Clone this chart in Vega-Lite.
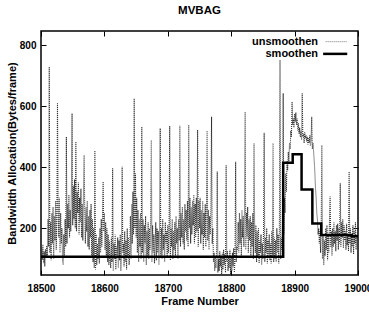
{
  "$schema": "https://vega.github.io/schema/vega-lite/v6.json",
  "width": 317,
  "height": 244,
  "autosize": "none",
  "padding": {"left": 41, "top": 31, "right": 11, "bottom": 41},
  "background": "white",
  "title": {"text": "MVBAG", "font": "Liberation Sans", "fontSize": 11.5, "fontWeight": "bold", "color": "black", "anchor": "middle", "offset": 14},
  "config": {
    "view": {"stroke": "black", "strokeWidth": 1.5},
    "axis": {"grid": false, "domain": false, "tickColor": "black", "tickSize": -5, "tickWidth": 1, "labelFont": "Liberation Sans", "labelFontWeight": "bold", "labelFontSize": 10, "labelColor": "black", "titleFont": "Liberation Sans", "titleFontWeight": "bold", "titleFontSize": 11, "titleColor": "black"},
    "text": {"font": "Liberation Sans", "fontWeight": "bold", "fontSize": 11, "color": "black"}
  },
  "datasets": {
    "u": [
{"f":18500,"v":85},{"f":18501,"v":140},{"f":18502,"v":97},{"f":18503,"v":148},{"f":18504,"v":86},{"f":18505,"v":124},{"f":18506,"v":75},{"f":18507,"v":131},{"f":18508,"v":105},{"f":18509,"v":143},
{"f":18510,"v":110},{"f":18511,"v":230},{"f":18512,"v":140},{"f":18513,"v":730},{"f":18514,"v":120},{"f":18515,"v":220},{"f":18516,"v":95},{"f":18517,"v":250},{"f":18518,"v":150},{"f":18519,"v":270},
{"f":18520,"v":100},{"f":18521,"v":240},{"f":18522,"v":160},{"f":18523,"v":290},{"f":18524,"v":130},{"f":18525,"v":230},{"f":18526,"v":610},{"f":18527,"v":260},{"f":18528,"v":170},{"f":18529,"v":300},
{"f":18530,"v":120},{"f":18531,"v":250},{"f":18532,"v":150},{"f":18533,"v":200},{"f":18534,"v":95},{"f":18535,"v":80},{"f":18536,"v":180},{"f":18537,"v":110},{"f":18538,"v":230},{"f":18539,"v":140},
{"f":18540,"v":500},{"f":18541,"v":150},{"f":18542,"v":280},{"f":18543,"v":200},{"f":18544,"v":310},{"f":18545,"v":170},{"f":18546,"v":260},{"f":18547,"v":190},{"f":18548,"v":330},{"f":18549,"v":577},
{"f":18550,"v":210},{"f":18551,"v":340},{"f":18552,"v":230},{"f":18553,"v":360},{"f":18554,"v":200},{"f":18555,"v":484},{"f":18556,"v":190},{"f":18557,"v":320},{"f":18558,"v":250},{"f":18559,"v":350},
{"f":18560,"v":180},{"f":18561,"v":300},{"f":18562,"v":220},{"f":18563,"v":330},{"f":18564,"v":170},{"f":18565,"v":280},{"f":18566,"v":160},{"f":18567,"v":310},{"f":18568,"v":440},{"f":18569,"v":260},
{"f":18570,"v":150},{"f":18571,"v":270},{"f":18572,"v":190},{"f":18573,"v":290},{"f":18574,"v":140},{"f":18575,"v":240},{"f":18576,"v":130},{"f":18577,"v":260},{"f":18578,"v":170},{"f":18579,"v":280},
{"f":18580,"v":110},{"f":18581,"v":230},{"f":18582,"v":90},{"f":18583,"v":200},{"f":18584,"v":70},{"f":18585,"v":455},{"f":18586,"v":65},{"f":18587,"v":180},{"f":18588,"v":80},{"f":18589,"v":150},
{"f":18590,"v":100},{"f":18591,"v":170},{"f":18592,"v":85},{"f":18593,"v":200},{"f":18594,"v":120},{"f":18595,"v":230},{"f":18596,"v":140},{"f":18597,"v":240},{"f":18598,"v":353},{"f":18599,"v":190},
{"f":18600,"v":250},{"f":18601,"v":130},{"f":18602,"v":220},{"f":18603,"v":110},{"f":18604,"v":200},{"f":18605,"v":90},{"f":18606,"v":180},{"f":18607,"v":80},{"f":18608,"v":160},{"f":18609,"v":100},
{"f":18610,"v":70},{"f":18611,"v":170},{"f":18612,"v":90},{"f":18613,"v":397},{"f":18614,"v":60},{"f":18615,"v":150},{"f":18616,"v":100},{"f":18617,"v":180},{"f":18618,"v":65},{"f":18619,"v":140},
{"f":18620,"v":110},{"f":18621,"v":170},{"f":18622,"v":70},{"f":18623,"v":160},{"f":18624,"v":95},{"f":18625,"v":180},{"f":18626,"v":60},{"f":18627,"v":140},{"f":18628,"v":402},{"f":18629,"v":120},
{"f":18630,"v":150},{"f":18631,"v":75},{"f":18632,"v":190},{"f":18633,"v":90},{"f":18634,"v":160},{"f":18635,"v":65},{"f":18636,"v":200},{"f":18637,"v":110},{"f":18638,"v":170},{"f":18639,"v":80},
{"f":18640,"v":120},{"f":18641,"v":240},{"f":18642,"v":100},{"f":18643,"v":280},{"f":18644,"v":150},{"f":18645,"v":320},{"f":18646,"v":180},{"f":18647,"v":626},{"f":18648,"v":200},{"f":18649,"v":380},
{"f":18650,"v":170},{"f":18651,"v":300},{"f":18652,"v":120},{"f":18653,"v":260},{"f":18654,"v":90},{"f":18655,"v":230},{"f":18656,"v":140},{"f":18657,"v":250},{"f":18658,"v":100},{"f":18659,"v":533},
{"f":18660,"v":120},{"f":18661,"v":230},{"f":18662,"v":90},{"f":18663,"v":210},{"f":18664,"v":150},{"f":18665,"v":240},{"f":18666,"v":80},{"f":18667,"v":190},{"f":18668,"v":110},{"f":18669,"v":220},
{"f":18670,"v":100},{"f":18671,"v":200},{"f":18672,"v":130},{"f":18673,"v":230},{"f":18674,"v":490},{"f":18675,"v":90},{"f":18676,"v":210},{"f":18677,"v":120},{"f":18678,"v":180},{"f":18679,"v":85},
{"f":18680,"v":150},{"f":18681,"v":220},{"f":18682,"v":95},{"f":18683,"v":200},{"f":18684,"v":120},{"f":18685,"v":190},{"f":18686,"v":80},{"f":18687,"v":210},{"f":18688,"v":528},{"f":18689,"v":110},
{"f":18690,"v":200},{"f":18691,"v":100},{"f":18692,"v":230},{"f":18693,"v":130},{"f":18694,"v":180},{"f":18695,"v":90},{"f":18696,"v":220},{"f":18697,"v":150},{"f":18698,"v":190},{"f":18699,"v":105},
{"f":18700,"v":210},{"f":18701,"v":120},{"f":18702,"v":180},{"f":18703,"v":536},{"f":18704,"v":95},{"f":18705,"v":200},{"f":18706,"v":140},{"f":18707,"v":230},{"f":18708,"v":100},{"f":18709,"v":190},
{"f":18710,"v":130},{"f":18711,"v":220},{"f":18712,"v":110},{"f":18713,"v":240},{"f":18714,"v":150},{"f":18715,"v":200},{"f":18716,"v":100},{"f":18717,"v":230},{"f":18718,"v":160},{"f":18719,"v":536},
{"f":18720,"v":140},{"f":18721,"v":250},{"f":18722,"v":170},{"f":18723,"v":270},{"f":18724,"v":150},{"f":18725,"v":230},{"f":18726,"v":130},{"f":18727,"v":280},{"f":18728,"v":190},{"f":18729,"v":260},
{"f":18730,"v":160},{"f":18731,"v":290},{"f":18732,"v":140},{"f":18733,"v":539},{"f":18734,"v":200},{"f":18735,"v":300},{"f":18736,"v":150},{"f":18737,"v":270},{"f":18738,"v":180},{"f":18739,"v":290},
{"f":18740,"v":210},{"f":18741,"v":310},{"f":18742,"v":150},{"f":18743,"v":280},{"f":18744,"v":170},{"f":18745,"v":300},{"f":18746,"v":190},{"f":18747,"v":522},{"f":18748,"v":140},{"f":18749,"v":290},
{"f":18750,"v":200},{"f":18751,"v":300},{"f":18752,"v":150},{"f":18753,"v":260},{"f":18754,"v":180},{"f":18755,"v":290},{"f":18756,"v":130},{"f":18757,"v":250},{"f":18758,"v":170},{"f":18759,"v":280},
{"f":18760,"v":140},{"f":18761,"v":270},{"f":18762,"v":520},{"f":18763,"v":160},{"f":18764,"v":260},{"f":18765,"v":130},{"f":18766,"v":240},{"f":18767,"v":180},{"f":18768,"v":270},{"f":18769,"v":566},
{"f":18770,"v":150},{"f":18771,"v":200},{"f":18772,"v":90},{"f":18773,"v":120},{"f":18774,"v":60},{"f":18775,"v":110},{"f":18776,"v":70},{"f":18777,"v":130},{"f":18778,"v":386},{"f":18779,"v":55},
{"f":18780,"v":100},{"f":18781,"v":60},{"f":18782,"v":125},{"f":18783,"v":75},{"f":18784,"v":110},{"f":18785,"v":50},{"f":18786,"v":120},{"f":18787,"v":65},{"f":18788,"v":130},{"f":18789,"v":80},
{"f":18790,"v":115},{"f":18791,"v":55},{"f":18792,"v":407},{"f":18793,"v":90},{"f":18794,"v":125},{"f":18795,"v":60},{"f":18796,"v":105},{"f":18797,"v":70},{"f":18798,"v":130},{"f":18799,"v":50},
{"f":18800,"v":110},{"f":18801,"v":60},{"f":18802,"v":120},{"f":18803,"v":75},{"f":18804,"v":135},{"f":18805,"v":55},{"f":18806,"v":100},{"f":18807,"v":418},{"f":18808,"v":90},{"f":18809,"v":140},
{"f":18810,"v":130},{"f":18811,"v":220},{"f":18812,"v":120},{"f":18813,"v":250},{"f":18814,"v":150},{"f":18815,"v":230},{"f":18816,"v":110},{"f":18817,"v":260},{"f":18818,"v":170},{"f":18819,"v":240},
{"f":18820,"v":140},{"f":18821,"v":260},{"f":18822,"v":582},{"f":18823,"v":130},{"f":18824,"v":250},{"f":18825,"v":170},{"f":18826,"v":270},{"f":18827,"v":120},{"f":18828,"v":230},{"f":18829,"v":160},
{"f":18830,"v":240},{"f":18831,"v":110},{"f":18832,"v":220},{"f":18833,"v":140},{"f":18834,"v":250},{"f":18835,"v":100},{"f":18836,"v":479},{"f":18837,"v":190},{"f":18838,"v":120},{"f":18839,"v":210},
{"f":18840,"v":90},{"f":18841,"v":190},{"f":18842,"v":110},{"f":18843,"v":200},{"f":18844,"v":85},{"f":18845,"v":160},{"f":18846,"v":120},{"f":18847,"v":180},{"f":18848,"v":80},{"f":18849,"v":150},
{"f":18850,"v":100},{"f":18851,"v":190},{"f":18852,"v":513},{"f":18853,"v":90},{"f":18854,"v":170},{"f":18855,"v":120},{"f":18856,"v":200},{"f":18857,"v":85},{"f":18858,"v":160},{"f":18859,"v":110},
{"f":18860,"v":180},{"f":18861,"v":95},{"f":18862,"v":150},{"f":18863,"v":85},{"f":18864,"v":190},{"f":18865,"v":110},{"f":18866,"v":479},{"f":18867,"v":90},{"f":18868,"v":170},{"f":18869,"v":100},
{"f":18870,"v":160},{"f":18871,"v":90},{"f":18872,"v":200},{"f":18873,"v":120},{"f":18874,"v":180},{"f":18875,"v":85},{"f":18876,"v":190},{"f":18877,"v":752},{"f":18878,"v":100},{"f":18879,"v":170},
{"f":18880,"v":130},{"f":18881,"v":220},{"f":18882,"v":643},{"f":18883,"v":180},{"f":18884,"v":300},{"f":18885,"v":250},{"f":18886,"v":380},{"f":18887,"v":320},{"f":18888,"v":420},{"f":18889,"v":390},
{"f":18890,"v":450},{"f":18891,"v":420},{"f":18892,"v":480},{"f":18893,"v":460},{"f":18894,"v":520},{"f":18895,"v":500},{"f":18896,"v":615},{"f":18897,"v":540},{"f":18898,"v":560},{"f":18899,"v":530},
{"f":18900,"v":575},{"f":18901,"v":550},{"f":18902,"v":580},{"f":18903,"v":540},{"f":18904,"v":560},{"f":18905,"v":520},{"f":18906,"v":545},{"f":18907,"v":510},{"f":18908,"v":530},{"f":18909,"v":500},
{"f":18910,"v":520},{"f":18911,"v":490},{"f":18912,"v":643},{"f":18913,"v":500},{"f":18914,"v":510},{"f":18915,"v":480},{"f":18916,"v":515},{"f":18917,"v":495},{"f":18918,"v":505},{"f":18919,"v":485},
{"f":18920,"v":500},{"f":18921,"v":475},{"f":18922,"v":495},{"f":18923,"v":480},{"f":18924,"v":505},{"f":18925,"v":470},{"f":18926,"v":490},{"f":18927,"v":566},{"f":18928,"v":460},{"f":18929,"v":480},
{"f":18930,"v":450},{"f":18931,"v":420},{"f":18932,"v":380},{"f":18933,"v":330},{"f":18934,"v":300},{"f":18935,"v":250},{"f":18936,"v":230},{"f":18937,"v":180},{"f":18938,"v":200},{"f":18939,"v":150},
{"f":18940,"v":190},{"f":18941,"v":120},{"f":18942,"v":210},{"f":18943,"v":473},{"f":18944,"v":100},{"f":18945,"v":180},{"f":18946,"v":80},{"f":18947,"v":160},{"f":18948,"v":110},{"f":18949,"v":200},
{"f":18950,"v":130},{"f":18951,"v":210},{"f":18952,"v":95},{"f":18953,"v":180},{"f":18954,"v":120},{"f":18955,"v":220},{"f":18956,"v":304},{"f":18957,"v":140},{"f":18958,"v":190},{"f":18959,"v":110},
{"f":18960,"v":200},{"f":18961,"v":140},{"f":18962,"v":220},{"f":18963,"v":150},{"f":18964,"v":190},{"f":18965,"v":125},{"f":18966,"v":210},{"f":18967,"v":160},{"f":18968,"v":215},{"f":18969,"v":130},
{"f":18970,"v":200},{"f":18971,"v":150},{"f":18972,"v":348},{"f":18973,"v":140},{"f":18974,"v":220},{"f":18975,"v":170},{"f":18976,"v":230},{"f":18977,"v":135},{"f":18978,"v":210},{"f":18979,"v":160},
{"f":18980,"v":190},{"f":18981,"v":130},{"f":18982,"v":215},{"f":18983,"v":145},{"f":18984,"v":180},{"f":18985,"v":125},{"f":18986,"v":386},{"f":18987,"v":150},{"f":18988,"v":200},{"f":18989,"v":120},
{"f":18990,"v":180},{"f":18991,"v":140},{"f":18992,"v":210},{"f":18993,"v":115},{"f":18994,"v":190},{"f":18995,"v":150},{"f":18996,"v":220},{"f":18997,"v":130},{"f":18998,"v":175},{"f":18999,"v":160},
{"f":19000,"v":200}
    ],
    "s": [
{"f":18500,"v":107},{"f":18882,"v":415},{"f":18897,"v":443},{"f":18911,"v":327},{"f":18928,"v":216},{"f":18942,"v":178},{"f":18990,"v":174},{"f":19000,"v":174}
    ],
    "leg": [
{"series":"unsmoothen","lx":18937,"sx1":18949,"sx2":18982,"ly":812},
{"series":"smoothen","lx":18937,"sx1":18945,"sx2":18983,"ly":772}
    ]
  },
  "resolve": {"axis": {"x": "independent", "y": "independent"}},
  "layer": [
    {
      "data": {"name": "u"},
      "mark": {"type": "line", "clip": true, "strokeDash": [1, 1], "color": "#333333", "strokeWidth": 1.1},
      "encoding": {
        "x": {"field": "f", "type": "quantitative", "scale": {"domain": [18500, 19000], "nice": false, "zero": false},
              "axis": {"orient": "bottom", "title": "Frame Number", "values": [18500, 18600, 18700, 18800, 18900, 19000], "format": "d", "labelFlush": false, "labelPadding": 13, "titlePadding": 2}},
        "y": {"field": "v", "type": "quantitative", "scale": {"domain": [47, 847], "nice": false, "zero": false},
              "axis": {"orient": "left", "title": "Bandwidth Allocation(Bytes/frame)", "values": [200, 400, 600, 800], "labelPadding": 10, "titlePadding": 2}}
      }
    },
    {
      "data": {"name": "s"},
      "mark": {"type": "line", "clip": true, "interpolate": "step-after", "color": "black", "strokeWidth": 2.5},
      "encoding": {
        "x": {"field": "f", "type": "quantitative", "axis": {"orient": "top", "title": null, "labels": false, "values": [18500, 18600, 18700, 18800, 18900, 19000]}},
        "y": {"field": "v", "type": "quantitative", "axis": {"orient": "right", "title": null, "labels": false, "values": [200, 400, 600, 800]}}
      }
    },
    {
      "data": {"name": "leg"},
      "mark": {"type": "text", "align": "right", "baseline": "middle"},
      "encoding": {
        "x": {"field": "lx", "type": "quantitative", "axis": null},
        "y": {"field": "ly", "type": "quantitative", "axis": null},
        "text": {"field": "series"}
      }
    },
    {
      "data": {"name": "leg"},
      "transform": [{"filter": "datum.series == 'unsmoothen'"}],
      "mark": {"type": "rule", "strokeDash": [1, 1], "color": "#777777", "strokeWidth": 1},
      "encoding": {
        "x": {"field": "sx1", "type": "quantitative", "axis": null},
        "x2": {"field": "sx2"},
        "y": {"field": "ly", "type": "quantitative", "axis": null}
      }
    },
    {
      "data": {"name": "leg"},
      "transform": [{"filter": "datum.series == 'smoothen'"}],
      "mark": {"type": "rule", "color": "black", "strokeWidth": 2.5},
      "encoding": {
        "x": {"field": "sx1", "type": "quantitative", "axis": null},
        "x2": {"field": "sx2"},
        "y": {"field": "ly", "type": "quantitative", "axis": null}
      }
    }
  ]
}
